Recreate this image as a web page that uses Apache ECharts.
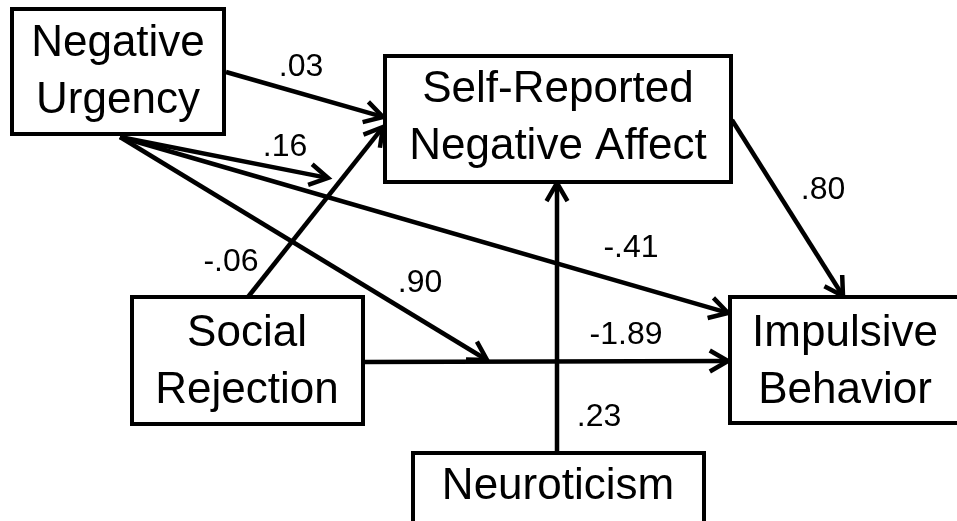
<!DOCTYPE html>
<html lang="en">
<head>
    <meta charset="UTF-8">
    <title>Path model</title>
    <style>
        *{ margin:0; padding:0; }
        body{ background:#fff; }
        #box{ width:957px; height:521px; }
    </style>
    <script src="https://cdn.jsdelivr.net/npm/echarts@6/dist/echarts.min.js"></script>
</head>
<body>
    <div id="box"></div>
    <script>
        // variables in the model
        var nodeNames = ['Negative\nUrgency', 'Self-Reported\nNegative Affect', 'Social\nRejection', 'Impulsive\nBehavior', 'Neuroticism'];
        // path coefficients
        var pathLabels = ['.03', '.16', '-.41', '.90', '-.06', '-1.89', '.23', '.80'];

        // layout of the diagram, in picture units (x right, y down)
        var nodeBoxes = [[12, 9, 224, 134], [385, 56, 731, 182], [132, 297, 363, 424], [730, 297, 965, 423], [413, 453, 704, 530]];
        var nodeCenters = [[118, 72], [558, 118], [247, 362], [845, 362], [558, 487]];
        var pathFrom = [[226, 72], [120, 137], [120, 137], [120, 137], [248, 297], [363, 362], [557, 453], [732, 120]];
        var pathTo = [[383, 117], [328, 178], [728, 313], [487, 360], [383, 127], [728, 361], [557, 183], [843, 296]];
        var labelPos = [[301, 67], [285, 147], [631, 248], [420, 283], [231, 262], [626, 335], [599, 417], [823, 190]];

        var font = '"Liberation Sans", Arial, sans-serif';

        var boxData = nodeBoxes.map(function (b, i) {
            return [b[0], b[1], b[2], b[3], nodeCenters[i][0], nodeCenters[i][1], nodeNames[i]];
        });
        var pathData = pathFrom.map(function (f, i) {
            return [f[0], f[1], pathTo[i][0], pathTo[i][1]];
        });
        var labelData = labelPos.map(function (p, i) {
            return [p[0], p[1], pathLabels[i]];
        });

        var myChart = echarts.init(document.getElementById('box'));
        var option = {
            animation: false,
            backgroundColor: '#fff',
            grid: { left: 0, right: 0, top: 0, bottom: 0 },
            xAxis: { type: 'value', min: 0, max: 957, show: false },
            yAxis: { type: 'value', min: 0, max: 521, inverse: true, show: false },
            series: [
                {
                    // arrows
                    type: 'custom',
                    z: 1,
                    data: pathData,
                    renderItem: function (params, api) {
                        var p0 = api.coord([api.value(0), api.value(1)]);
                        var p1 = api.coord([api.value(2), api.value(3)]);
                        var dx = p1[0] - p0[0], dy = p1[1] - p0[1];
                        var len = Math.sqrt(dx * dx + dy * dy);
                        var ux = dx / len, uy = dy / len;
                        var L = 21, a = Math.PI / 6;
                        var c = Math.cos(a), s = Math.sin(a);
                        var w1 = [p1[0] - L * (ux * c - uy * s), p1[1] - L * (uy * c + ux * s)];
                        var w2 = [p1[0] - L * (ux * c + uy * s), p1[1] - L * (uy * c - ux * s)];
                        return {
                            type: 'group',
                            children: [
                                { type: 'line', shape: { x1: p0[0], y1: p0[1], x2: p1[0] - ux * 2, y2: p1[1] - uy * 2 },
                                  style: { stroke: '#000', lineWidth: 4.5 } },
                                { type: 'polyline', shape: { points: [w1, p1, w2] },
                                  style: { stroke: '#000', fill: null, lineWidth: 4.5, lineJoin: 'miter' } }
                            ]
                        };
                    }
                },
                {
                    // boxes
                    type: 'custom',
                    z: 2,
                    data: boxData,
                    renderItem: function (params, api) {
                        var a = api.coord([api.value(0), api.value(1)]);
                        var b = api.coord([api.value(2), api.value(3)]);
                        var c = api.coord([api.value(4), api.value(5)]);
                        return {
                            type: 'group',
                            children: [
                                { type: 'rect', shape: { x: a[0], y: a[1], width: b[0] - a[0], height: b[1] - a[1] },
                                  style: { fill: '#fff', stroke: '#000', lineWidth: 4 } },
                                { type: 'text', x: c[0], y: c[1],
                                  style: { text: boxData[params.dataIndex][6], fill: '#000', font: '44px ' + font,
                                           align: 'center', verticalAlign: 'middle', lineHeight: 57 } }
                            ]
                        };
                    }
                },
                {
                    // coefficient labels
                    type: 'custom',
                    z: 3,
                    data: labelData,
                    renderItem: function (params, api) {
                        var p = api.coord([api.value(0), api.value(1)]);
                        return {
                            type: 'text', x: p[0], y: p[1],
                            style: { text: labelData[params.dataIndex][2], fill: '#000', font: '32px ' + font,
                                     align: 'center', verticalAlign: 'middle' }
                        };
                    }
                }
            ]
        };
        myChart.setOption(option);
    </script>
</body>
</html>
